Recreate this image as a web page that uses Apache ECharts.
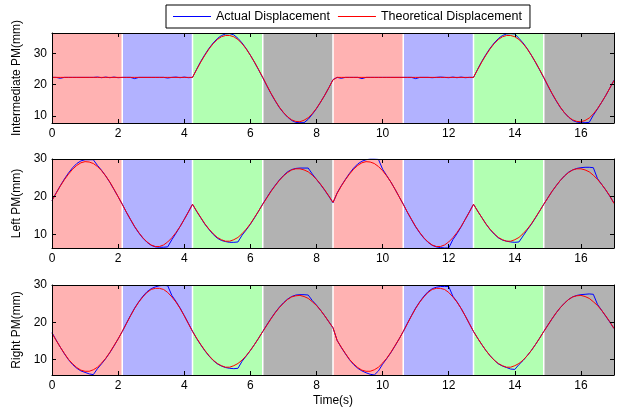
<!DOCTYPE html>
<html><head><meta charset="utf-8">
<script src="https://cdn.jsdelivr.net/npm/echarts@6/dist/echarts.min.js"></script>
<style>html,body{margin:0;padding:0;background:#fff}#c{width:622px;height:412px}</style>
</head><body><div id="c"></div><script>
// ---- data ----
const time = [0,0.125,0.25,0.375,0.5,0.625,0.75,0.875,1,1.125,1.25,1.375,1.5,1.625,1.75,1.875,2,2.125,
2.25,2.375,2.5,2.625,2.75,2.875,3,3.125,3.25,3.375,3.5,3.625,3.75,3.875,4,4.125,4.25,
4.375,4.5,4.625,4.75,4.875,5,5.125,5.25,5.375,5.5,5.625,5.75,5.875,6,6.125,6.25,6.375,
6.5,6.625,6.75,6.875,7,7.125,7.25,7.375,7.5,7.625,7.75,7.875,8,8.125,8.25,8.375,8.5,
8.625,8.75,8.875,9,9.125,9.25,9.375,9.5,9.625,9.75,9.875,10,10.125,10.25,10.375,10.5,10.625,
10.75,10.875,11,11.125,11.25,11.375,11.5,11.625,11.75,11.875,12,12.125,12.25,12.375,12.5,12.625,12.75,
12.875,13,13.125,13.25,13.375,13.5,13.625,13.75,13.875,14,14.125,14.25,14.375,14.5,14.625,14.75,14.875,
15,15.125,15.25,15.375,15.5,15.625,15.75,15.875,16,16.125,16.25,16.375,16.5,16.625,16.75,16.875,17];

const interAct = [
22.3,22.3,22.0,22.3,22.3,22.3,22.3,22.3,22.3,22.3,22.3,22.4,22.2,22.4,22.2,22.4,22.2,22.3,
22.3,22.3,21.9,22.3,22.3,22.3,22.3,22.3,22.3,22.3,22.1,22.3,22.4,22.2,22.4,22.2,22.3,
24.9,27.4,29.6,31.6,33.3,34.7,35.7,36.2,36.3,35.9,34.8,33.3,31.5,29.4,27.1,24.7,22.2,
19.6,17.1,14.8,12.7,11.0,9.6,8.5,7.9,7.8,7.8,8.9,10.5,12.3,14.4,16.6,19.0,21.6,
22.3,22.0,22.3,22.3,22.3,22.3,21.9,22.3,22.3,22.3,22.3,22.3,22.3,22.3,22.3,22.3,22.3,
22.3,22.3,21.9,22.3,22.3,22.3,22.2,22.3,22.4,22.3,22.2,22.4,22.2,22.4,22.2,22.3,22.3,
24.9,27.4,29.6,31.6,33.3,34.7,35.7,36.2,36.3,36.2,34.8,33.3,31.5,29.4,27.1,24.7,22.2,
19.6,17.1,14.8,12.7,11.0,9.6,8.5,8.0,7.8,7.8,7.9,10.2,12.2,14.3,16.5,18.9,21.4];
const interTheo = [
22.3,22.3,22.3,22.3,22.3,22.3,22.3,22.3,22.3,22.3,22.3,22.3,22.3,22.3,22.3,22.3,22.3,22.3,
22.3,22.3,22.3,22.3,22.3,22.3,22.3,22.3,22.3,22.3,22.3,22.3,22.3,22.3,22.3,22.3,22.3,
24.8,27.2,29.4,31.4,33.1,34.4,35.3,35.7,35.7,35.3,34.4,33.1,31.4,29.4,27.2,24.8,22.3,
19.7,17.2,14.9,12.8,11.1,9.7,8.7,8.2,8.1,8.6,9.4,10.7,12.4,14.4,16.6,19.0,21.5,
22.3,22.3,22.3,22.3,22.3,22.3,22.3,22.3,22.3,22.3,22.3,22.3,22.3,22.3,22.3,22.3,22.3,
22.3,22.3,22.3,22.3,22.3,22.3,22.3,22.3,22.3,22.3,22.3,22.3,22.3,22.3,22.3,22.3,22.3,
24.8,27.2,29.4,31.4,33.1,34.4,35.3,35.7,35.7,35.3,34.4,33.1,31.4,29.4,27.2,24.8,22.3,
19.7,17.2,14.9,12.8,11.0,9.6,8.7,8.2,8.1,8.5,9.3,10.6,12.3,14.3,16.5,18.9,21.3];

const leftAct = [
19.0,21.0,22.9,24.7,26.3,27.7,28.8,29.5,29.8,29.8,29.8,28.3,27.0,25.5,23.8,21.9,20.0,18.0,
15.9,13.9,12.0,10.4,9.0,7.9,7.1,6.7,6.6,6.6,6.7,8.6,10.3,12.1,14.0,16.0,18.0,
16.1,14.4,12.7,11.3,10.0,9.0,8.4,8.1,7.9,7.9,8.0,9.8,11.2,12.7,14.4,16.2,18.1,
19.8,21.5,23.0,24.4,25.6,26.6,27.2,27.5,27.6,27.6,27.6,26.0,24.6,23.2,21.7,20.1,18.4,
21.0,22.9,24.6,26.2,27.6,28.7,29.4,29.8,30.0,30.0,29.9,27.3,25.6,23.9,22.0,20.0,18.0,
15.9,13.9,12.0,10.4,9.0,7.9,7.1,6.7,6.5,6.4,6.4,8.6,10.2,12.0,14.0,16.0,18.0,
16.2,14.5,12.8,11.3,10.1,9.1,8.5,8.2,8.0,7.9,8.0,9.6,11.2,12.7,14.4,16.2,18.0,
19.7,21.4,22.9,24.3,25.5,26.5,27.1,27.5,27.7,27.8,27.8,27.7,24.8,23.3,21.8,20.1,18.3];
const leftTheo = [
19.0,20.9,22.8,24.5,26.0,27.3,28.3,29.0,29.3,29.2,28.8,28.0,26.9,25.5,23.9,22.0,20.0,18.0,
15.9,14.0,12.1,10.5,9.1,8.0,7.2,6.8,6.8,7.2,8.0,9.1,10.5,12.1,14.0,15.9,18.0,
16.2,14.5,12.8,11.4,10.2,9.2,8.6,8.2,8.2,8.6,9.2,10.2,11.4,12.8,14.5,16.2,18.0,
19.7,21.4,22.9,24.3,25.5,26.4,27.1,27.4,27.4,27.1,26.6,25.7,24.6,23.3,21.8,20.2,18.5,
20.9,22.8,24.5,26.0,27.3,28.3,29.0,29.3,29.2,28.8,28.0,26.9,25.5,23.9,22.0,20.0,18.0,
15.9,14.0,12.1,10.5,9.1,8.0,7.2,6.8,6.8,7.2,8.0,9.1,10.5,12.1,14.0,15.9,18.0,
16.2,14.5,12.8,11.4,10.2,9.2,8.6,8.2,8.2,8.6,9.2,10.2,11.4,12.8,14.5,16.2,18.0,
19.7,21.4,22.9,24.3,25.5,26.4,27.1,27.4,27.4,27.1,26.6,25.7,24.6,23.3,21.8,20.2,18.2];

const rightAct = [
17.2,15.2,13.3,11.5,9.9,8.6,7.6,6.9,6.5,6.1,5.9,7.5,8.8,10.2,11.8,13.6,15.5,17.5,
19.7,21.8,23.8,25.5,27.0,28.2,29.0,29.5,29.8,29.9,29.8,27.2,25.6,23.8,21.8,19.7,17.6,
15.6,13.9,12.3,10.9,9.7,8.8,8.2,7.8,7.6,7.5,7.6,9.5,10.9,12.4,14.0,15.7,17.5,
19.3,21.0,22.6,24.0,25.2,26.2,26.9,27.3,27.4,27.4,27.3,25.8,24.6,23.2,21.7,20.1,18.5,
15.1,13.2,11.5,9.9,8.6,7.6,6.9,6.4,6.0,5.8,6.9,8.7,10.2,11.8,13.6,15.5,17.5,
19.7,21.8,23.8,25.5,27.0,28.2,29.0,29.4,29.6,29.6,29.6,27.0,25.5,23.7,21.7,19.6,17.5,
15.7,14.0,12.4,11.0,9.8,8.8,8.2,7.8,7.4,7.3,8.6,9.7,11.0,12.4,14.0,15.7,17.5,
19.2,20.9,22.5,23.9,25.1,26.1,26.8,27.2,27.4,27.5,27.6,27.5,24.8,23.2,21.6,20.0,18.3];
const rightTheo = [
17.0,15.1,13.3,11.6,10.0,8.8,7.8,7.1,6.8,6.8,7.2,7.9,9.0,10.3,11.9,13.7,15.5,17.5,
19.6,21.7,23.7,25.4,26.8,28.0,28.8,29.1,29.1,28.8,28.0,26.8,25.4,23.7,21.7,19.6,17.5,
15.7,14.0,12.4,11.0,9.8,8.9,8.3,7.9,7.9,8.3,8.9,9.8,11.0,12.4,14.0,15.7,17.5,
19.2,20.9,22.5,23.9,25.1,26.1,26.8,27.1,27.2,26.9,26.4,25.5,24.5,23.2,21.7,20.1,18.5,
15.1,13.3,11.6,10.0,8.8,7.8,7.1,6.8,6.8,7.2,7.9,9.0,10.3,11.9,13.7,15.5,17.5,
19.6,21.7,23.7,25.4,26.8,28.0,28.8,29.1,29.1,28.8,28.0,26.8,25.4,23.7,21.7,19.6,17.5,
15.7,14.0,12.4,11.0,9.8,8.9,8.3,7.9,7.9,8.3,8.9,9.8,11.0,12.4,14.0,15.7,17.5,
19.2,20.9,22.5,23.9,25.1,26.1,26.8,27.1,27.2,26.9,26.4,25.5,24.5,23.2,21.7,20.1,18.3];

const phaseBounds = [0, 2.125, 4.25, 6.375, 8.5, 10.625, 12.75, 14.875, 17];
const phaseIndex = [0, 1, 2, 3, 0, 1, 2, 3];
const xTicks = [0, 2, 4, 6, 8, 10, 12, 14, 16];
const yTicks = [10, 20, 30];
const yLimits = [[7.7, 36.5], [6.4, 30], [5.8, 30]];
const yNames = ['Intermediate PM(mm)', 'Left PM(mm)', 'Right PM(mm)'];
const xName = 'Time(s)';
const seriesNames = ['Actual Displacement', 'Theoretical Displacement'];

// ---- styles ----
const phaseColors = ['rgb(255,178,178)', 'rgb(178,178,255)', 'rgb(178,255,178)', 'rgb(178,178,178)'];
const lineColors = ['#0000ff', '#ff0000'];
const FONT = '"Liberation Sans", Arial, sans-serif';
const gridBoxes = [{top: 33, height: 90}, {top: 159, height: 89}, {top: 285, height: 90}];
const actual = [interAct, leftAct, rightAct];
const theo = [interTheo, leftTheo, rightTheo];

const grid = [], xAxis = [], yAxis = [], series = [];
const axLine = {show: true, onZero: false, lineStyle: {color: '#000', width: 1}};
function tick(vals) { return {show: true, inside: true, length: 4, customValues: vals, lineStyle: {color: '#000', width: 1}}; }

for (let g = 0; g < 3; g++) {
  grid.push({left: 52, right: 8, top: gridBoxes[g].top, height: gridBoxes[g].height});
  xAxis.push({gridIndex: g, type: 'value', min: 0, max: 17, position: 'bottom', z: 10,
    axisLine: axLine, axisTick: tick(xTicks), splitLine: {show: false},
    axisLabel: {show: true, customValues: xTicks, color: '#000', fontFamily: FONT, fontSize: 12, margin: 5},
    name: g === 2 ? xName : '', nameLocation: 'middle', nameGap: 20,
    nameTextStyle: {color: '#000', fontFamily: FONT, fontSize: 12}});
  xAxis.push({gridIndex: g, type: 'value', min: 0, max: 17, position: 'top', z: 10,
    axisLine: axLine, axisTick: tick(xTicks), splitLine: {show: false}, axisLabel: {show: false}});
  yAxis.push({gridIndex: g, type: 'value', min: yLimits[g][0], max: yLimits[g][1], position: 'left', z: 10,
    axisLine: axLine, axisTick: tick(yTicks), splitLine: {show: false},
    axisLabel: {show: true, customValues: yTicks, color: '#000', fontFamily: FONT, fontSize: 12, margin: 5},
    name: yNames[g], nameLocation: 'middle', nameGap: 22,
    nameTextStyle: {color: '#000', fontFamily: FONT, fontSize: 12}});
  yAxis.push({gridIndex: g, type: 'value', min: yLimits[g][0], max: yLimits[g][1], position: 'right', z: 10,
    axisLine: axLine, axisTick: tick(yTicks), splitLine: {show: false}, axisLabel: {show: false}});

  const lo = yLimits[g][0], hi = yLimits[g][1];
  series.push({type: 'custom', xAxisIndex: 2 * g, yAxisIndex: 2 * g, z: 1, silent: true,
    data: phaseIndex.map((p, i) => [phaseBounds[i], phaseBounds[i + 1], lo, hi, p]),
    encode: {x: [0, 1], y: [2, 3]},
    renderItem: function (params, api) {
      const tl = api.coord([api.value(0), api.value(3)]);
      const br = api.coord([api.value(1), api.value(2)]);
      const children = [{type: 'rect', shape: {x: tl[0], y: tl[1], width: br[0] - tl[0], height: br[1] - tl[1]},
        style: {fill: phaseColors[api.value(4)]}}];
      if (api.value(0) > 0) children.push({type: 'line', shape: {x1: tl[0], y1: tl[1], x2: tl[0], y2: br[1]},
        style: {stroke: '#fff', lineWidth: 1.5}});
      return {type: 'group', children: children};
    }});
  [actual[g], theo[g]].forEach((arr, k) => {
    series.push({type: 'line', name: seriesNames[k], xAxisIndex: 2 * g, yAxisIndex: 2 * g,
      data: time.map((t, i) => [t, arr[i]]), symbol: 'none', showSymbol: false, clip: true,
      z: 3 + k, lineStyle: {width: 1, color: lineColors[k]}, itemStyle: {color: lineColors[k]}});
  });
}

const chart = echarts.init(document.getElementById('c'), null, {renderer: 'canvas'});
chart.setOption({
  animation: false,
  backgroundColor: '#fff',
  legend: {data: seriesNames, left: 166, top: 5, z: 20, orient: 'horizontal', icon: 'rect',
    itemWidth: 38, itemHeight: 1, itemGap: 8, padding: [5, 8, 5, 7],
    borderColor: '#000', borderWidth: 1, backgroundColor: '#fff', borderRadius: 0,
    textStyle: {color: '#000', fontFamily: FONT, fontSize: 12.5}},
  grid: grid, xAxis: xAxis, yAxis: yAxis, series: series
});
</script></body></html>
